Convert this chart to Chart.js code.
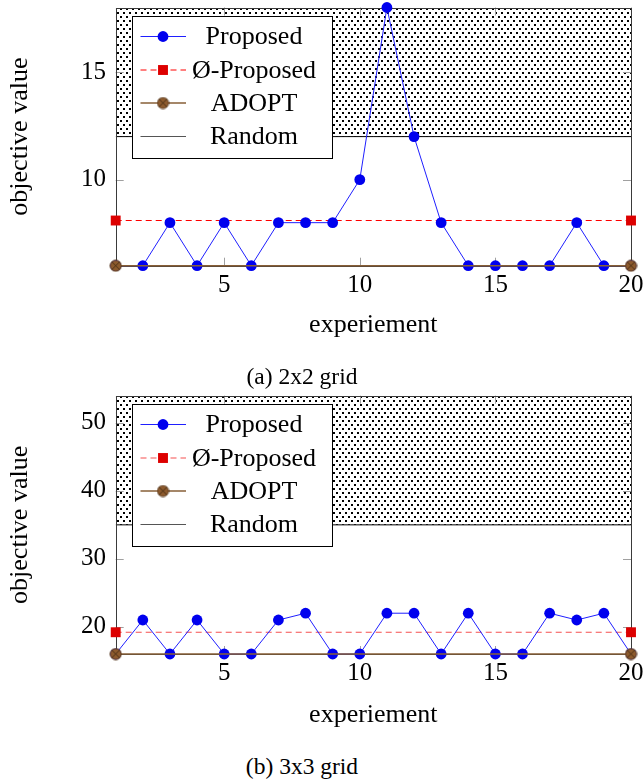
<!DOCTYPE html>
<html><head><meta charset="utf-8">
<script src="https://cdn.jsdelivr.net/npm/chart.js@4"></script>
<style>
html,body{margin:0;padding:0;background:#fff;}
body{width:643px;height:779px;position:relative;overflow:hidden;font-family:"Liberation Serif",serif;}
.wrap{position:absolute;left:0;width:643px;}
canvas{display:block;}
.cap{position:absolute;font-size:23.5px;line-height:1;transform:translate(-50%,-50%);white-space:nowrap;color:#000;font-family:"Liberation Serif",serif;}
</style></head><body>
<div class="wrap" style="top:0;height:345px"><canvas id="c1" width="643" height="345"></canvas></div>
<div class="wrap" style="top:380px;height:355px"><canvas id="c2" width="643" height="355"></canvas></div>
<div class="cap" style="left:302px;top:377px">(a) 2x2 grid</div>
<div class="cap" style="left:302px;top:767px">(b) 3x3 grid</div>
<script>
// ---- data ----
const experiments = [1,2,3,4,5,6,7,8,9,10,11,12,13,14,15,16,17,18,19,20];
const proposed2x2 = [6,6,8,6,8,6,8,8,8,10,18,12,8,6,6,6,6,8,6,6];
const proposed3x3 = [16,21,16,21,16,16,21,22,16,16,22,22,16,22,16,16,22,21,22,16];
const lineEnds = [1,20];
const avgProposed2x2 = [8.1,8.1];
const avgProposed3x3 = [19.2,19.2];
const adopt2x2 = [6,6];
const adopt3x3 = [16,16];
const random2x2 = [12,12];
const random3x3 = [35,35];
const xTicks = [5,10,15,20];
const yTicks2x2 = [10,15];
const yTicks3x3 = [20,30,40,50];
const yRange2x2 = [6,18];
const yRange3x3 = [16,54];
const seriesLabels = ['Proposed','Ø-Proposed','ADOPT','Random'];
const xTitle = 'experiement';
const yTitle = 'objective value';

Chart.defaults.font.family = '"Liberation Serif", "Times New Roman", serif';
Chart.defaults.color = '#000';

// dotted pattern for the Random region
function makeDots(){
  const t = document.createElement('canvas'); t.width = 6; t.height = 8;
  const c = t.getContext('2d');
  c.fillStyle = '#fff'; c.fillRect(0,0,6,8);
  c.fillStyle = '#000';
  c.fillRect(0,0,2,2); c.fillRect(3,4,2,2);
  return c.createPattern(t,'repeat');
}
// ADOPT marker: brown circle with a cross
function makeOtimes(){
  const s = 13, t = document.createElement('canvas'); t.width = s; t.height = s;
  const c = t.getContext('2d'), r = 5.6, m = s/2;
  c.beginPath(); c.arc(m,m,r,0,Math.PI*2);
  c.fillStyle = 'rgb(140,90,45)'; c.fill();
  c.lineWidth = 0.8; c.strokeStyle = 'rgb(80,50,25)'; c.stroke();
  const d = r*Math.SQRT1_2;
  c.beginPath(); c.moveTo(m-d,m-d); c.lineTo(m+d,m+d); c.moveTo(m+d,m-d); c.lineTo(m-d,m+d);
  c.strokeStyle = 'rgba(40,25,10,0.8)'; c.lineWidth = 0.8; c.stroke();
  return t;
}
const otimes = makeOtimes();

const pts = (xs, ys) => xs.map((x,i)=>({x:x, y:ys[i]}));

const framePlugin = {
  id:'frameTicks',
  afterDatasetDraw(chart, args){
    if (chart.data.datasets[args.index].label !== 'Random') return;
    const {ctx, chartArea:a, scales:{x,y}} = chart;
    ctx.save();
    ctx.strokeStyle = '#a0a0a0'; ctx.lineWidth = 1;
    const L = 8;
    ctx.beginPath();
    x.ticks.forEach(t=>{
      const px = Math.round(x.getPixelForValue(t.value)) + 0.5;
      ctx.moveTo(px, a.bottom); ctx.lineTo(px, a.bottom - L);
      ctx.moveTo(px, a.top); ctx.lineTo(px, a.top + L);
    });
    y.ticks.forEach(t=>{
      const py = Math.round(y.getPixelForValue(t.value)) + 0.5;
      ctx.moveTo(a.left, py); ctx.lineTo(a.left + L, py);
      ctx.moveTo(a.right, py); ctx.lineTo(a.right - L, py);
    });
    ctx.stroke();
    ctx.strokeStyle = '#3a3a3a';
    ctx.strokeRect(Math.round(a.left)+0.5, Math.round(a.top)+0.5, Math.round(a.right-a.left), Math.round(a.bottom-a.top));
    ctx.restore();
  }
};

const legendPlugin = {
  id:'boxLegend',
  afterDraw(chart){
    const {ctx, chartArea:a} = chart;
    const bx = Math.round(a.left + 16), by = Math.round(a.top + 8), bw = 200, bh = 142;
    ctx.save();
    ctx.fillStyle = '#fff'; ctx.fillRect(bx, by, bw, bh);
    ctx.strokeStyle = '#000'; ctx.lineWidth = 1; ctx.strokeRect(bx+0.5, by+0.5, bw, bh);
    const rows = [20.5, 54, 87, 120.5];
    seriesLabels.forEach((label, i)=>{
      const ds = chart.data.datasets.find(d=>d.label===label);
      const yy = by + rows[i];
      ctx.save();
      ctx.strokeStyle = ds.legendColor || ds.borderColor;
      ctx.lineWidth = ds.borderWidth;
      ctx.setLineDash(ds.borderDash || []);
      ctx.beginPath(); ctx.moveTo(bx+8.5, yy); ctx.lineTo(bx+54, yy); ctx.stroke();
      ctx.restore();
      const mx = bx + 31;
      if (ds.pointStyle === 'circle' && ds.pointRadius > 0) {
        ctx.beginPath(); ctx.arc(mx, yy, ds.pointRadius, 0, Math.PI*2);
        ctx.fillStyle = ds.pointBackgroundColor; ctx.fill();
      } else if (ds.pointStyle === 'rect') {
        const s = ds.pointRadius*Math.SQRT1_2;
        ctx.fillStyle = ds.pointBackgroundColor; ctx.fillRect(mx-s, yy-s, 2*s, 2*s);
      } else if (ds.pointStyle instanceof HTMLCanvasElement) {
        ctx.drawImage(ds.pointStyle, mx - ds.pointStyle.width/2, yy - ds.pointStyle.height/2);
      }
      ctx.fillStyle = '#000';
      ctx.font = '26px "Liberation Serif"';
      ctx.textAlign = 'center'; ctx.textBaseline = 'middle';
      ctx.fillText(label, bx + 122, yy + 1);
    });
    ctx.restore();
  }
};

function makeChart(id, o){
  return new Chart(document.getElementById(id), {
    type:'line',
    data:{ datasets:[
      { label:seriesLabels[2], data:pts(lineEnds, o.adopt), order:0, clip:false,
        borderColor:'rgb(135,95,55)', borderWidth:1.5, pointStyle:otimes, pointRadius:6,
        pointBackgroundColor:'rgb(140,90,45)', fill:false },
      { label:seriesLabels[0], data:pts(experiments, o.proposed), order:1, clip:false,
        borderColor:'#1f1fff', borderWidth:1, pointStyle:'circle', pointRadius:5.4,
        pointBorderWidth:0, pointBackgroundColor:'#0000ee', pointBorderColor:'#0000ee', fill:false, tension:0 },
      { label:seriesLabels[1], data:pts(lineEnds, o.avg), order:2, clip:false,
        borderColor:o.avgColor, borderWidth:1.2, borderDash:[6,4], pointStyle:'rect', pointRadius:7,
        pointBorderWidth:0, pointBackgroundColor:'#dd0000', pointBorderColor:'#dd0000', fill:false },
      { label:seriesLabels[3], data:pts(lineEnds, o.random), order:3,
        borderColor:'#000', legendColor:'#555', borderWidth:1, pointRadius:0, pointStyle:'line',
        fill:'end', backgroundColor:makeDots() }
    ]},
    options:{
      responsive:false, animation:false, devicePixelRatio:1,
      layout:{ padding:{ top:o.padTop, right:12, left:0, bottom:0 } },
      plugins:{ legend:{display:false}, tooltip:{enabled:false} },
      scales:{
        x:{ type:'linear', min:1, max:20,
          afterBuildTicks:(ax)=>{ ax.ticks = xTicks.map(v=>({value:v})); },
          afterFit:(sc)=>{ sc.height = o.xAxisH; sc.paddingLeft = 0; sc.paddingRight = 0; },
          grid:{display:false, drawTicks:false}, border:{display:false},
          ticks:{ font:{size:25}, padding:4.5, color:'#000', maxRotation:0, autoSkip:false },
          title:{ display:true, text:xTitle, font:{size:26}, padding:{top:0,bottom:4.4}, color:'#000' } },
        y:{ type:'linear', min:o.yRange[0], max:o.yRange[1],
          afterBuildTicks:(ax)=>{ ax.ticks = o.yTicks.map(v=>({value:v})); },
          afterFit:(sc)=>{ sc.width = 115.7; sc.paddingTop = 0; sc.paddingBottom = 0; },
          grid:{display:false, drawTicks:false}, border:{display:false},
          ticks:{ font:{size:25}, padding:9.7, color:'#000' },
          title:{ display:true, text:yTitle, font:{size:26}, padding:{top:4.4,bottom:0}, color:'#000' } }
      }
    },
    plugins:[framePlugin, legendPlugin]
  });
}

makeChart('c1', { proposed:proposed2x2, avg:avgProposed2x2, adopt:adopt2x2, random:random2x2,
  yTicks:yTicks2x2, yRange:yRange2x2, padTop:7.3, xAxisH:79.3, avgColor:'#ff0000' });
makeChart('c2', { proposed:proposed3x3, avg:avgProposed3x3, adopt:adopt3x3, random:random3x3,
  yTicks:yTicks3x3, yRange:yRange3x3, padTop:15.7, xAxisH:81, avgColor:'rgb(245,80,80)' });
</script>
</body></html>
